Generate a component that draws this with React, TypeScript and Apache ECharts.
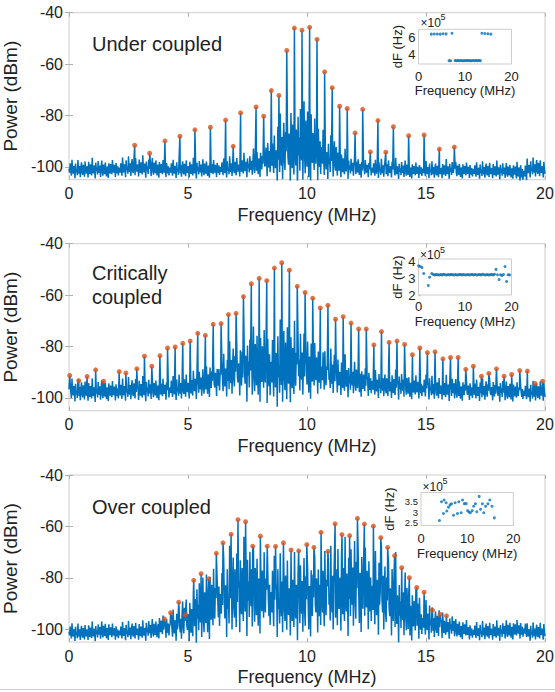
import React, { useEffect, useRef } from "react";
import * as echarts from "echarts";

// ---------- Data ----------
const FREQ_TICKS = [0, 5, 10, 15, 20];
const POWER_TICKS = [-100, -80, -60, -40];

// Under coupled: comb peaks (MHz, dBm)
const underPeakF = [2.76, 3.39, 4.03, 4.66, 5.29, 5.94, 6.58, 6.90, 7.21, 7.86, 8.18, 8.50, 8.82, 9.15, 9.47, 9.79, 10.11, 10.42, 10.74, 11.06, 11.37, 11.69, 12.02, 12.34, 12.66, 12.98, 13.31, 13.63, 14.27, 14.92, 15.56, 16.19];
const underPeakP = [-91.6, -94.7, -89.9, -88.1, -85.6, -84.6, -81.8, -92.0, -79.0, -76.7, -80.3, -70.3, -72.2, -54.7, -46.0, -46.8, -45.7, -50.4, -63.0, -69.2, -76.4, -77.3, -86.8, -77.6, -94.2, -82.0, -94.3, -84.4, -87.9, -87.6, -93.1, -92.3];

// Critically coupled
const critPeakF = [0.03, 0.41, 0.76, 1.12, 1.45, 2.11, 2.39, 2.85, 3.17, 3.48, 3.82, 4.14, 4.46, 4.78, 5.09, 5.41, 5.73, 6.06, 6.39, 6.70, 7.02, 7.33, 7.66, 7.99, 8.31, 8.63, 8.94, 9.26, 9.59, 9.92, 10.24, 10.56, 10.88, 11.20, 11.52, 11.85, 12.17, 12.49, 12.81, 13.13, 13.45, 13.78, 14.10, 14.43, 14.74, 15.06, 15.38, 15.71, 16.03, 16.35, 16.67, 16.99, 17.33, 17.64, 17.96, 18.28, 18.60, 18.94, 19.26, 19.58, 19.90];
const critPeakP = [-91.3, -93.3, -91.7, -89.1, -93.5, -89.8, -90.3, -88.7, -83.8, -87.7, -83.6, -80.6, -80.2, -78.8, -77.9, -74.9, -75.7, -71.4, -71.1, -67.6, -67.1, -60.6, -55.6, -53.5, -54.4, -49.5, -47.4, -50.3, -56.6, -59.0, -61.2, -65.0, -64.0, -69.4, -68.4, -70.9, -73.2, -73.2, -79.4, -74.2, -78.4, -77.9, -79.2, -83.2, -80.6, -82.4, -82.1, -84.8, -84.3, -84.3, -88.9, -87.7, -91.6, -90.5, -88.7, -91.6, -90.9, -89.4, -89.6, -94.4, -93.5];

// Over coupled
const overPeakF = [4.01, 4.27, 4.61, 4.89, 5.24, 5.55, 5.87, 6.19, 6.47, 6.81, 7.10, 7.42, 7.72, 8.04, 8.33, 8.68, 9.01, 9.33, 9.65, 9.99, 10.29, 10.59, 10.88, 11.18, 11.47, 11.79, 12.12, 12.41, 12.79, 13.10, 13.39, 13.68, 13.98, 14.30, 14.61, 14.92, 15.27, 15.59, 15.86];
const overPeakP = [-96.0, -93.6, -89.5, -94.4, -81.0, -78.4, -80.4, -70.5, -66.4, -63.1, -57.4, -58.2, -67.7, -63.8, -67.7, -67.8, -66.4, -69.2, -69.5, -67.1, -68.2, -62.3, -69.7, -59.0, -63.2, -63.6, -56.9, -59.1, -59.9, -64.4, -68.2, -71.4, -76.1, -80.0, -83.8, -85.6, -92.6, -94.2, -94.8];

// Noise floor envelopes (dBm) at 0, 0.5, ..., 20 MHz
const underNoiseTop = [-96.5, -97, -96.5, -97, -96.5, -95.5, -95.5, -96, -96.5, -96.5, -96.5, -96.5, -96.5, -96, -95.5, -94.5, -92, -86, -78, -72, -72, -78, -87, -93, -95.5, -96.5, -96.5, -96.5, -97, -97.5, -97, -97.5, -97, -97.5, -97.5, -97.5, -97.5, -98, -97, -96, -96.5];
const underNoiseBottom = [-107.5, -107.5, -107.5, -107.5, -107.5, -107.5, -107.5, -107.5, -107.5, -107.5, -107.5, -107.5, -107.5, -107.5, -107.5, -107.5, -109, -112, -118, -122, -122, -118, -112, -109, -107.5, -107.5, -107.5, -107.5, -107.5, -107.5, -107.5, -107.5, -107.5, -107.5, -107.5, -107.5, -107.5, -107.5, -110, -107.5, -107.5];
const critNoiseTop = [-91.5, -92.5, -92.5, -92.5, -92.5, -91.5, -91.5, -91.5, -91.5, -90.5, -89.5, -88, -85, -81, -77, -73, -70, -68, -68, -70, -73, -76, -80, -83, -85, -87, -88, -89, -89, -90, -90, -91, -91, -92, -92, -92, -92, -93, -93, -93, -92.5];
const critNoiseBottom = [-105, -105, -105, -105, -105, -105, -105, -105, -105, -105, -105, -105, -106, -107, -109, -112, -115, -118, -118, -116, -112, -109, -107, -106, -105, -105, -105, -105, -105, -105, -105, -105, -105, -105, -105, -105, -105, -105, -105, -105, -105];
const overNoiseTop = [-97, -97.5, -97, -96.5, -97, -96.5, -96.5, -95.5, -93.5, -91, -86, -78, -73, -69, -66, -64, -66, -68, -69, -70, -70, -68, -66, -64, -63, -64, -66, -70, -76, -82, -87, -91, -93.5, -95.5, -96.5, -96.5, -96.5, -96, -95.5, -97, -96.5];
const overNoiseBottom = [-107.5, -107.5, -107.5, -107.5, -107.5, -107.5, -107.5, -107.5, -108, -110, -113, -116, -117, -117, -117, -117, -117, -117, -117, -117, -117, -117, -117, -117, -117, -117, -117, -117, -116, -114, -111, -109, -107.5, -107.5, -107.5, -107.5, -107.5, -107.5, -107.5, -107.5, -107.5];

// Hand-typed noise texture (fraction of the envelope span)
const NOISE_TEXTURE = [0.62, 0.48, 0.81, 0.55, 0.37, 0.93, 0.58, 0.44, 0.71, 0.66, 0.29, 0.84, 0.52, 0.61, 0.40, 0.97, 0.57, 0.46, 0.74, 0.33, 0.68, 0.88, 0.50, 0.42, 0.79, 0.60, 0.35, 0.91, 0.54, 0.47, 0.70, 0.64, 0.31, 0.86, 0.59, 0.43, 0.77, 0.51, 0.38, 1.00, 0.56, 0.45, 0.73, 0.63, 0.27, 0.83, 0.53, 0.67, 0.41, 0.89, 0.58, 0.49, 0.76, 0.34, 0.65, 0.95, 0.52, 0.39, 0.80, 0.61, 0.44, 0.87, 0.57, 0.36, 0.72, 0.69, 0.30, 0.85, 0.55, 0.47, 0.78, 0.60, 0.42, 0.92, 0.54, 0.48, 0.75, 0.66, 0.32, 0.82, 0.59, 0.45, 0.70, 0.38, 0.64];

// Insets: dF (x1e5 Hz) vs frequency (MHz)
const insetUnderF = [2.76, 3.39, 4.03, 4.66, 5.29, 5.94, 6.58, 6.90, 7.21, 7.86, 8.18, 8.50, 8.82, 9.15, 9.47, 9.79, 10.11, 10.42, 10.74, 11.06, 11.37, 11.69, 12.02, 12.34, 12.66, 12.98, 13.31, 13.63, 14.27, 14.92, 15.56];
const insetUnderDF = [6.35, 6.37, 6.36, 6.35, 6.40, 6.38, 3.33, 3.32, 6.45, 3.34, 3.33, 3.35, 3.33, 3.34, 3.32, 3.33, 3.35, 3.33, 3.34, 3.33, 3.32, 3.34, 3.33, 3.35, 3.33, 3.34, 3.33, 6.45, 6.42, 6.40, 6.35];
const insetCritF = [0.03, 0.41, 0.76, 1.12, 2.11, 2.39, 2.85, 3.17, 3.48, 3.82, 4.14, 4.46, 4.78, 5.09, 5.41, 5.73, 6.06, 6.39, 6.70, 7.02, 7.33, 7.66, 7.99, 8.31, 8.63, 8.94, 9.26, 9.59, 9.92, 10.24, 10.56, 10.88, 11.20, 11.52, 11.85, 12.17, 12.49, 12.81, 13.13, 13.45, 13.78, 14.10, 14.43, 14.74, 15.06, 15.38, 15.71, 16.03, 16.35, 16.67, 16.99, 17.33, 17.64, 17.96, 18.28, 18.60, 18.94, 19.26, 19.58];
const insetCritDF = [3.74, 3.70, 3.64, 3.28, 2.57, 3.06, 3.28, 3.22, 3.20, 3.23, 3.21, 3.19, 3.22, 3.20, 3.24, 3.21, 3.19, 3.22, 3.20, 3.23, 3.21, 3.20, 3.22, 3.19, 3.21, 3.23, 3.20, 3.22, 3.21, 3.19, 3.22, 3.20, 3.21, 3.23, 3.20, 3.22, 3.19, 3.21, 3.22, 3.20, 3.24, 3.21, 3.19, 3.22, 3.20, 3.21, 3.23, 3.20, 3.24, 3.53, 3.21, 2.92, 3.21, 3.17, 3.22, 3.70, 2.81, 3.21, 3.20];
const insetOverF = [4.0, 4.44, 4.87, 5.0, 5.45, 5.6, 5.96, 6.3, 6.6, 7.05, 7.4, 7.9, 8.2, 8.7, 9.0, 9.4, 9.8, 10.1, 10.4, 10.7, 11.1, 11.4, 11.8, 12.1, 12.6, 12.9, 13.3, 13.6, 14.0, 14.5, 14.9, 15.4, 15.9];
const insetOverDF = [2.59, 3.50, 2.93, 3.59, 3.45, 3.05, 3.24, 3.35, 3.40, 2.85, 3.45, 2.93, 3.50, 2.97, 3.59, 3.41, 3.41, 3.07, 3.00, 2.97, 3.07, 3.28, 3.40, 3.02, 3.76, 3.14, 3.40, 2.97, 3.28, 3.40, 3.59, 3.28, 2.72];

// ---------- Construction helpers ----------
const STEP = 0.025;
const SAMPLES = 800;

function buildTrace(top: number[], bottom: number[], peakF: number[], peakP: number[]) {
  const pts: number[][] = [];
  for (let i = 0; i <= SAMPLES; i++) {
    const f = +(i * STEP).toFixed(3);
    const node = Math.round(f / 0.5);
    const t = NOISE_TEXTURE[i % NOISE_TEXTURE.length];
    pts.push([f, bottom[node] + (top[node] - bottom[node]) * t]);
  }
  peakF.forEach((f, k) => {
    const i = Math.round(f / STEP);
    pts[i] = [f, peakP[k]];
  });
  return pts;
}
const zip = (a: number[], b: number[]) => a.map((v, i) => [v, b[i]]);

const FONT = "Liberation Sans, Arial, Helvetica, sans-serif";
const TXT = "#222222";
const BOX = "#cdcdcd";
const BLUE = "#0072BD";
const ORANGE = "#D95319";

const MAIN_GRIDS = [12.7, 243.7, 475];
const INSETS = [
  { left: 418.5, top: 29.3, width: 93, height: 34.7, min: 2.95, max: 6.9, ticks: [4, 6], lblMargin: 5.5, nameGap: 19.5, yGap: 15, yFont: 13 },
  { left: 418.5, top: 259, width: 93, height: 36, min: 2, max: 4.15, ticks: [2, 3, 4], lblMargin: 5, nameGap: 20, yGap: 15, yFont: 13 },
  { left: 421, top: 492.5, width: 92.3, height: 33, min: 2.35, max: 3.95, ticks: [2.5, 3.5], lblMargin: 6, nameGap: 21.5, yGap: 25, yFont: 9.5 },
];
const INSET3_MID_TICK = [3];

export default function App() {
  const ref = useRef<HTMLDivElement>(null);
  useEffect(() => {
    if (!ref.current) return;
    const chart = echarts.init(ref.current, undefined, { renderer: "svg" });

    const grids: any[] = [];
    const xAxes: any[] = [];
    const yAxes: any[] = [];
    MAIN_GRIDS.forEach((top) => {
      grids.push({ left: 69, top, width: 476, height: 167, show: true, borderColor: BOX, borderWidth: 1, backgroundColor: "transparent", containLabel: false, outerBoundsMode: "none" });
    });
    INSETS.forEach((g) => {
      grids.push({ left: g.left, top: g.top, width: g.width, height: g.height, show: true, borderColor: BOX, borderWidth: 1, backgroundColor: "#ffffff", z: 5, containLabel: false, outerBoundsMode: "none" });
    });

    MAIN_GRIDS.forEach((_, i) => {
      xAxes.push({
        type: "value", gridIndex: i, min: 0, max: 20, interval: 5, position: "bottom",
        axisLine: { show: false },
        axisTick: { show: true, inside: true, length: 4, lineStyle: { color: "#b0b0b0" } },
        axisLabel: { fontSize: 16, color: TXT, fontFamily: FONT, margin: 6 },
        splitLine: { show: false },
        name: "Frequency (MHz)", nameLocation: "middle", nameGap: 26,
        nameTextStyle: { fontSize: 18, color: TXT, fontFamily: FONT },
      });
      yAxes.push({
        type: "value", gridIndex: i, min: -105, max: -40, position: "left",
        axisLine: { show: false },
        axisTick: { show: true, inside: true, length: 4, lineStyle: { color: "#b0b0b0" }, customValues: POWER_TICKS },
        axisLabel: { fontSize: 16, color: TXT, fontFamily: FONT, margin: 6, customValues: POWER_TICKS },
        splitLine: { show: false },
        name: "Power (dBm)", nameLocation: "middle", nameGap: 40,
        nameTextStyle: { fontSize: 19, color: TXT, fontFamily: FONT },
      });
    });
    INSETS.forEach((g, k) => {
      const gi = 3 + k;
      xAxes.push({
        type: "value", gridIndex: gi, min: 0, max: 20, interval: 10,
        axisLine: { show: false },
        axisTick: { show: true, inside: true, length: 2, lineStyle: { color: "#b0b0b0" } },
        axisLabel: { fontSize: 13, color: TXT, fontFamily: FONT, margin: g.lblMargin },
        splitLine: { show: false },
        name: "Frequency (MHz)", nameLocation: "middle", nameGap: g.nameGap,
        nameTextStyle: { fontSize: 13, color: TXT, fontFamily: FONT },
      });
      yAxes.push({
        type: "value", gridIndex: gi, min: g.min, max: g.max,
        axisLine: { show: false },
        axisTick: { show: true, inside: true, length: 2, lineStyle: { color: "#b0b0b0" }, customValues: g.ticks },
        axisLabel: { fontSize: g.yFont, color: TXT, fontFamily: FONT, margin: 3, customValues: g.ticks, showMinLabel: true, showMaxLabel: true },
        splitLine: { show: false },
        name: "dF (Hz)", nameLocation: "middle", nameGap: g.yGap,
        nameTextStyle: { fontSize: 13, color: TXT, fontFamily: FONT },
      });
    });
    MAIN_GRIDS.forEach((_, i) => {
      xAxes.push({
        type: "value", gridIndex: i, min: 0, max: 20, interval: 5, position: "top",
        axisLine: { show: false },
        axisTick: { show: true, inside: true, length: 4, lineStyle: { color: "#b0b0b0" } },
        axisLabel: { show: false }, splitLine: { show: false },
      });
      yAxes.push({
        type: "value", gridIndex: i, min: -105, max: -40, position: "right",
        axisLine: { show: false },
        axisTick: { show: true, inside: true, length: 4, lineStyle: { color: "#b0b0b0" }, customValues: POWER_TICKS },
        axisLabel: { show: false }, splitLine: { show: false },
      });
    });
    // middle label of the third inset (kept on its own axis so it is not hidden as overlapping)
    yAxes.push({
      type: "value", gridIndex: 5, min: INSETS[2].min, max: INSETS[2].max, position: "left",
      axisLine: { show: false },
      axisTick: { show: true, inside: true, length: 2, lineStyle: { color: "#b0b0b0" }, customValues: INSET3_MID_TICK },
      axisLabel: { fontSize: INSETS[2].yFont, color: TXT, fontFamily: FONT, margin: 3, customValues: INSET3_MID_TICK },
      splitLine: { show: false },
    });

    const traces = [
      buildTrace(underNoiseTop, underNoiseBottom, underPeakF, underPeakP),
      buildTrace(critNoiseTop, critNoiseBottom, critPeakF, critPeakP),
      buildTrace(overNoiseTop, overNoiseBottom, overPeakF, overPeakP),
    ];
    const peaks = [zip(underPeakF, underPeakP), zip(critPeakF, critPeakP), zip(overPeakF, overPeakP)];
    const insetData = [zip(insetUnderF, insetUnderDF), zip(insetCritF, insetCritDF), zip(insetOverF, insetOverDF)];

    const series: any[] = [];
    traces.forEach((d, i) => {
      series.push({
        type: "line", xAxisIndex: i, yAxisIndex: i, data: d, symbol: "none", clip: true,
        lineStyle: { color: BLUE, width: 1.5 }, z: 2, silent: true,
      });
      series.push({
        type: "scatter", xAxisIndex: i, yAxisIndex: i, data: peaks[i], symbol: "circle", symbolSize: 5,
        itemStyle: { color: ORANGE }, z: 3, silent: true,
      });
    });
    insetData.forEach((d, k) => {
      series.push({
        type: "scatter", xAxisIndex: 3 + k, yAxisIndex: 3 + k, data: d, symbol: "circle", symbolSize: 3,
        itemStyle: { color: BLUE }, z: 6, silent: true,
      });
    });

    const txt = (text: string, x: number, y: number, size: number, extra: any = {}) => ({
      type: "text", x, y, z: 10,
      style: { text, fontSize: size, fontFamily: FONT, fill: TXT, verticalAlign: "middle", align: "left", ...extra },
    });
    const graphic: any[] = [
      txt("Under coupled", 92, 43.5, 20),
      txt("Critically\ncoupled", 92, 285, 20, { lineHeight: 24 }),
      txt("Over coupled", 92, 506.5, 20),
      txt("\u00d710", 420.5, 22.7, 12),
      txt("5", 440.5, 17, 9),
      txt("\u00d710", 420, 255, 12),
      txt("5", 440, 249.5, 9),
      txt("\u00d710", 422.5, 486.7, 12),
      txt("5", 442.5, 481, 9),
      { type: "line", z: 10, shape: { x1: 0, y1: 689.5, x2: 555, y2: 689.5 }, style: { stroke: "#d0d0d0", lineWidth: 1 } },
    ];

    chart.setOption({
      animation: false,
      backgroundColor: "#ffffff",
      textStyle: { fontFamily: FONT },
      grid: grids,
      xAxis: xAxes,
      yAxis: yAxes,
      series,
      graphic,
    });
    return () => chart.dispose();
  }, []);
  return <div ref={ref} style={{ position: "absolute", left: 0, top: 0, width: 555, height: 692, background: "#fff" }} />;
}
